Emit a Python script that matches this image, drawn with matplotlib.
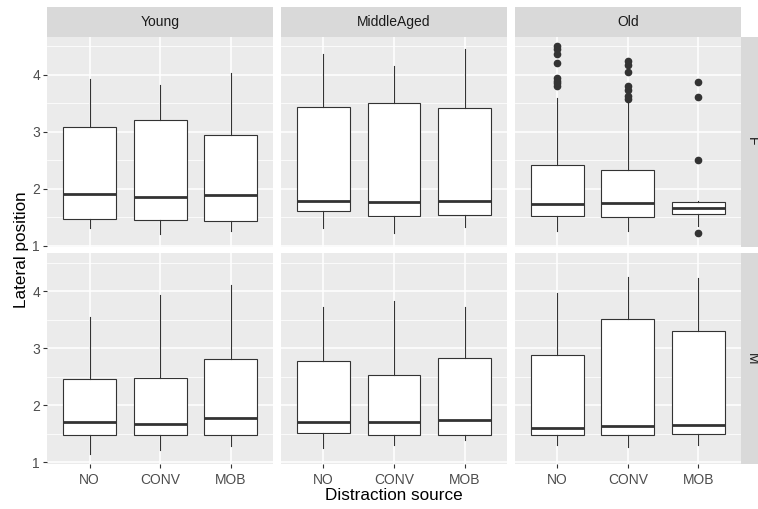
import matplotlib
matplotlib.use("Agg")
import matplotlib.pyplot as plt

plt.rcParams['font.family'] = ['Liberation Sans', 'DejaVu Sans']

categories = ["NO", "CONV", "MOB"]
ages = ["Young", "MiddleAged", "Old"]
sexes = ["F", "M"]

# Box statistics per sex -> per age group -> per distraction source
whislo = {
    "F": [[1.31, 1.20, 1.26], [1.31, 1.22, 1.32], [1.26, 1.26, 1.35]],
    "M": [[1.15, 1.22, 1.29], [1.25, 1.31, 1.39], [1.31, 1.27, 1.31]],
}
q1 = {
    "F": [[1.46, 1.45, 1.43], [1.61, 1.52, 1.54], [1.52, 1.50, 1.56]],
    "M": [[1.48, 1.48, 1.48], [1.52, 1.48, 1.48], [1.48, 1.48, 1.50]],
}
med = {
    "F": [[1.90, 1.86, 1.88], [1.78, 1.76, 1.78], [1.73, 1.75, 1.66]],
    "M": [[1.71, 1.67, 1.77], [1.71, 1.70, 1.74], [1.61, 1.63, 1.66]],
}
q3 = {
    "F": [[3.08, 3.20, 2.94], [3.44, 3.51, 3.42], [2.41, 2.32, 1.76]],
    "M": [[2.46, 2.48, 2.81], [2.78, 2.53, 2.83], [2.88, 3.52, 3.31]],
}
whishi = {
    "F": [[3.92, 3.83, 4.04], [4.36, 4.15, 4.46], [3.60, 3.53, 1.78]],
    "M": [[3.56, 3.94, 4.12], [3.73, 3.84, 3.73], [3.97, 4.26, 4.24]],
}
fliers = {
    "F": [[[], [], []], [[], [], []],
          [[4.51, 4.45, 4.36, 4.20, 3.95, 3.89, 3.85, 3.80],
           [4.24, 4.17, 4.05, 3.80, 3.74, 3.63, 3.57],
           [3.87, 3.61, 2.50, 1.22]]],
    "M": [[[], [], []], [[], [], []], [[], [], []]],
}
y_ticks = [1, 2, 3, 4]
y_minor = [1.5, 2.5, 3.5, 4.5]

W, H = 758, 509
fig = plt.figure(figsize=(W / 100, H / 100), dpi=100)


def rect(x0, y0, x1, y1):
    return [x0 / W, 1 - y1 / H, (x1 - x0) / W, (y1 - y0) / H]


cols = [(47.3, 273.0), (281.0, 507.0), (515.0, 740.7)]
rows = [(36.7, 246.7), (253.3, 463.5)]
bg = "#EBEBEB"
strip_bg = "#D9D9D9"
tick_col = "#4D4D4D"
edge = "#333333"

for r, sex in enumerate(sexes):
    for c, age in enumerate(ages):
        x0, x1 = cols[c]
        y0, y1 = rows[r]
        ax = fig.add_axes(rect(x0, y0, x1, y1))
        ax.set_facecolor(bg)
        stats = []
        for k, cat in enumerate(categories):
            stats.append(dict(med=med[sex][c][k], q1=q1[sex][c][k], q3=q3[sex][c][k],
                              whislo=whislo[sex][c][k], whishi=whishi[sex][c][k],
                              fliers=fliers[sex][c][k], label=cat))
        ax.bxp(stats, positions=[1, 2, 3], widths=0.75, showcaps=False, patch_artist=True,
               boxprops=dict(facecolor="white", edgecolor=edge, linewidth=0.8),
               whiskerprops=dict(color=edge, linewidth=0.8),
               medianprops=dict(color=edge, linewidth=2.0, solid_capstyle="butt"),
               flierprops=dict(marker="o", markerfacecolor=edge, markeredgecolor=edge,
                               markersize=4.5, linestyle="none"),
               zorder=3)
        ax.set_xlim(0.4, 3.6)
        ax.set_ylim(0.98, 4.67)
        ax.set_yticks(y_ticks)
        ax.set_yticks(y_minor, minor=True)
        ax.set_xticks([1, 2, 3])
        ax.grid(True, which="major", color="white", linewidth=1.1, zorder=0)
        ax.grid(True, which="minor", axis="y", color="white", linewidth=0.55, zorder=0)
        ax.set_axisbelow(True)
        for s in ax.spines.values():
            s.set_visible(False)
        ax.tick_params(which="minor", length=0)
        ax.tick_params(which="major", length=3.2, width=0.8, color=edge,
                       labelcolor=tick_col, labelsize=10, pad=2)
        ax.tick_params(axis="x", pad=4)
        if c == 0:
            ax.set_yticklabels([str(t) for t in y_ticks])
        else:
            ax.tick_params(axis="y", length=0, labelleft=False)
        if r == 1:
            ax.set_xticklabels(categories)
        else:
            ax.tick_params(axis="x", length=0, labelbottom=False)

        if r == 0:
            sax = fig.add_axes(rect(x0, 7.0, x1, 36.7))
            sax.set_facecolor(strip_bg)
            sax.set_xticks([]); sax.set_yticks([])
            for s in sax.spines.values():
                s.set_visible(False)
            sax.text(0.5, 0.5, age, ha="center", va="center", fontsize=10,
                     color="#1A1A1A", transform=sax.transAxes)
        if c == 2:
            rax = fig.add_axes(rect(740.7, y0, 764.0, y1))
            rax.set_facecolor(strip_bg)
            rax.set_xticks([]); rax.set_yticks([])
            for s in rax.spines.values():
                s.set_visible(False)
            rax.text(0.5, 0.5, sex, ha="center", va="center", fontsize=10,
                     rotation=-90, color="#1A1A1A", transform=rax.transAxes)

fig.text(22 / W, 1 - 250 / H, "Lateral position", rotation=90, ha="center", va="center",
         fontsize=12.3, color="black")
fig.text(394 / W, 1 - 496 / H, "Distraction source", ha="center", va="center",
         fontsize=12.3, color="black")

fig.savefig("out.png", dpi=100)
